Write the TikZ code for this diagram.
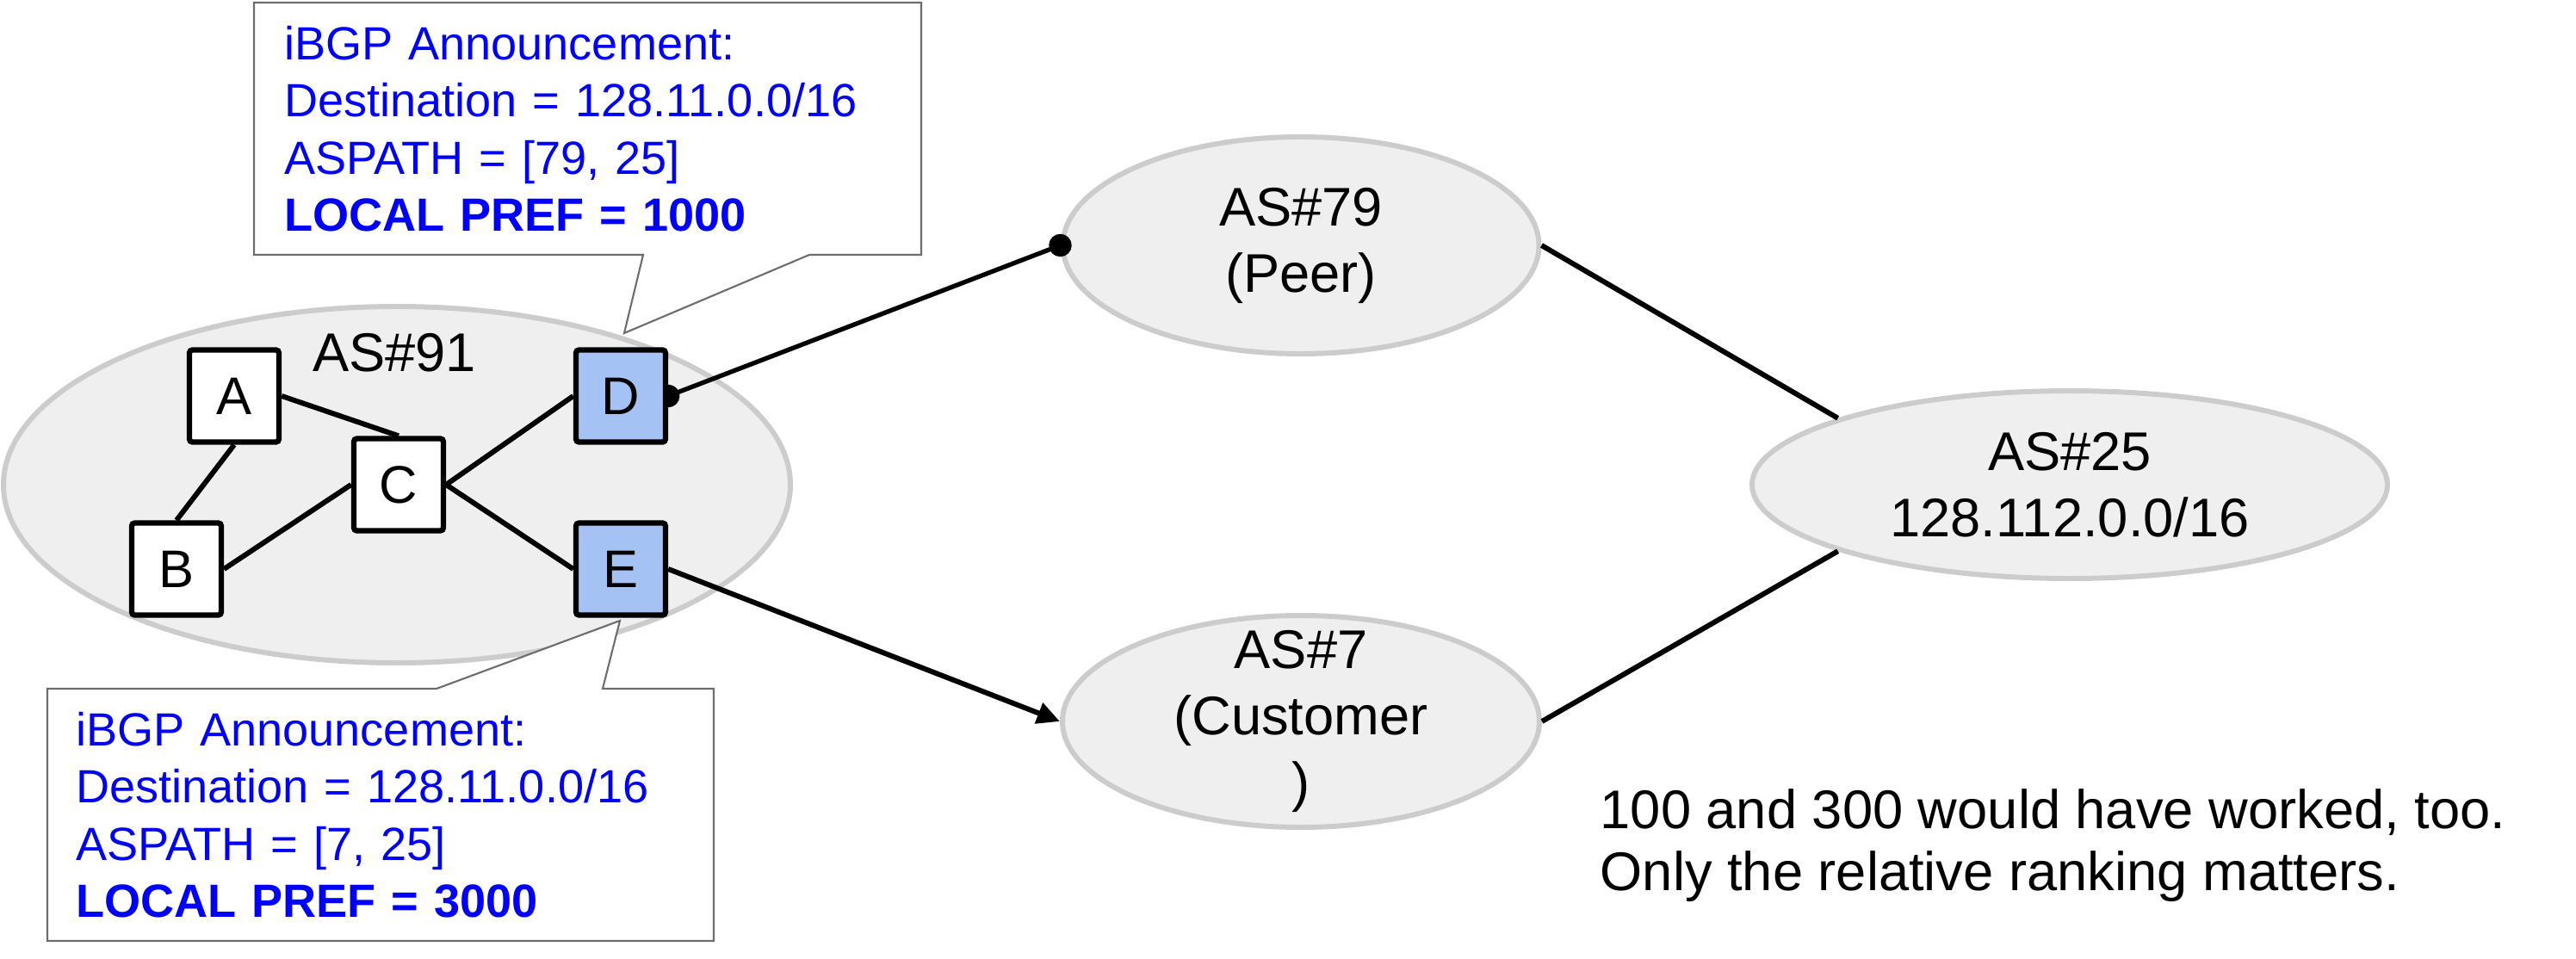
\documentclass[tikz,border=0pt]{standalone}
\usepackage{fontspec}
\setmainfont{Liberation Sans}
\usetikzlibrary{shapes.geometric, arrows.meta, backgrounds}

\definecolor{domainfill}{HTML}{EFEFEF}
\definecolor{domainline}{HTML}{CCCCCC}
\definecolor{borderfill}{HTML}{A4C2F4}
\definecolor{announcetext}{HTML}{0000FF}
\definecolor{calloutline}{HTML}{6D6D6D}

\begin{document}
\begin{tikzpicture}[
  asdomain/.style = {
    shape = ellipse,
    draw = domainline,
    fill = domainfill,
    line width = 1.7pt,
    inner sep = 0pt,
  },
  asname/.style = {
    align = center,
    inner sep = 0pt,
    font = \fontsize{18}{21.9}\selectfont,
  },
  router/.style = {
    shape = rectangle,
    draw = black,
    fill = white,
    line width = 1.8pt,
    rounded corners = 1pt,
    minimum width = 1.04cm,
    minimum height = 1.07cm,
    inner sep = 0pt,
    font = \fontsize{17.5}{21}\selectfont,
  },
  callout/.style = {
    draw = calloutline,
    fill = white,
    line width = 0.6pt,
  },
  announcement/.style = {
    text = announcetext,
    align = left,
    inner ysep = 0pt,
    font = \fontsize{15.4}{18.9}\selectfont,
  }
]
  \useasboundingbox (0, 0) rectangle (29.92, 11.13);

  % the ASes
  \begin{scope}[on background layer]
    \node[asdomain, minimum width = 9.14cm, minimum height = 4.14cm] (as91) at (4.61, 5.50) {};
    \node[asdomain, minimum width = 5.53cm, minimum height = 2.52cm] (as79) at (15.11, 8.28) {};
    \node[asdomain, minimum width = 5.54cm, minimum height = 2.46cm] (as7) at (15.11, 2.75) {};
    \node[asdomain, minimum width = 7.38cm, minimum height = 2.18cm] (as25) at (24.04, 5.50) {};
  \end{scope}

  \node[asname] (as91name) at (4.58, 7.03) {AS\#91};
  \node[asname] (as79name) at (as79.center) {AS\#79\\(Peer)};
  \node[asname] (as7name) at (as7.center) {AS\#7\\(Customer\\)};
  \node[asname] (as25name) at (as25.center) {AS\#25\\128.112.0.0/16};

  % routers of AS91
  \node[router] (a) at (2.72, 6.53) {A};
  \node[router] (b) at (2.05, 4.52) {B};
  \node[router] (c) at (4.63, 5.50) {C};
  \node[router, fill = borderfill] (d) at (7.21, 6.53) {D};
  \node[router, fill = borderfill] (e) at (7.21, 4.52) {E};

  \begin{scope}[on background layer, every path/.style = {draw = black, line width = 1.7pt}]
    \draw (a.south) -- (b.north);
    \draw (a.east) -- (c.north);
    \draw (b.east) -- (c.west);
    \draw (c.east) -- (d.west);
    \draw (c.east) -- (e.west);

    \draw[line width = 1.5pt, {Circle[length = 7.5pt]}-{Circle[length = 7.5pt]},
      shorten <= -3.75pt, shorten >= -3.75pt] (d.east) -- (as79.west);
    \draw[-{Triangle[length = 7.5pt, width = 7pt]}] (e.east) -- (as7.west);

    \draw (as79.east) -- (as25.164);
    \draw (as7.east) -- (as25.196);
  \end{scope}

  % announcements
  \coordinate (tipd) at (7.25, 7.26);
  \draw[callout] (2.95, 8.17) -- (2.95, 11.10) -- (10.70, 11.10) -- (10.70, 8.17)
    -- (9.40, 8.17) -- (tipd) -- (7.47, 8.17) -- cycle;
  \node[announcement, text width = 7.05cm, inner xsep = 0.35cm] (annd) at (6.825, 9.635)
    {iBGP Announcement:\\Destination = 128.11.0.0/16\\ASPATH = [79, 25]\\\textbf{LOCAL PREF = 1000}};

  \coordinate (tipe) at (7.20, 3.92);
  \draw[callout] (0.55, 3.13) -- (0.55, 0.20) -- (8.29, 0.20) -- (8.29, 3.13)
    -- (7.00, 3.13) -- (tipe) -- (5.07, 3.13) -- cycle;
  \node[announcement, text width = 7.08cm, inner xsep = 0.33cm] (anne) at (4.42, 1.665)
    {iBGP Announcement:\\Destination = 128.11.0.0/16\\ASPATH = [7, 25]\\\textbf{LOCAL PREF = 3000}};

  \node[anchor = west, align = left, inner sep = 0pt, font = \fontsize{18}{20.3}\selectfont]
    (remark) at (18.58, 1.31) {100 and 300 would have worked, too.\\Only the relative ranking matters.};
\end{tikzpicture}
\end{document}
